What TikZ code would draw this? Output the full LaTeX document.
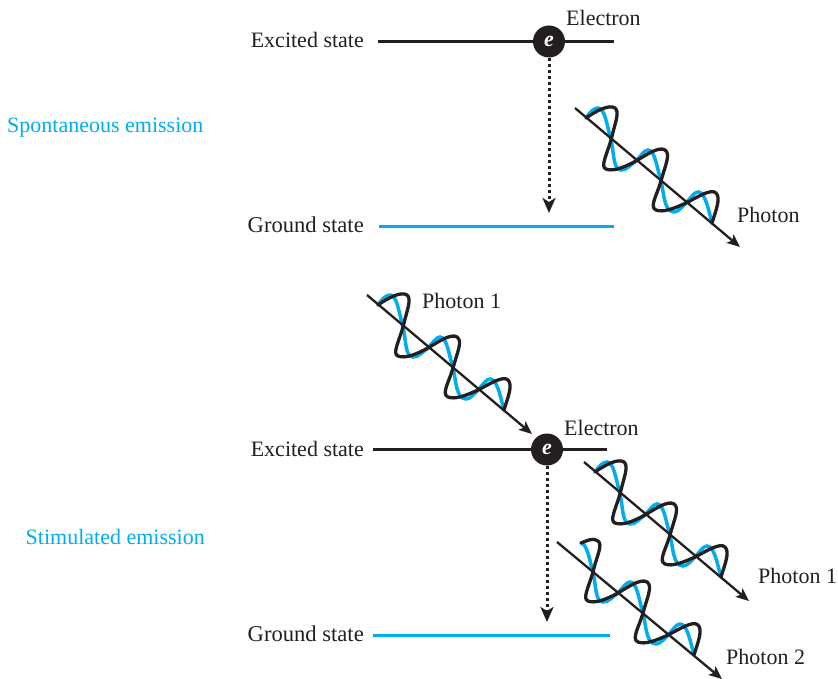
\documentclass[tikz,border=0pt]{standalone}
\usepackage{fontspec}
\setmainfont{Liberation Serif}
\usetikzlibrary{arrows.meta}
\definecolor{inkblack}{HTML}{231F20}
\definecolor{cyanblue}{HTML}{00AEEF}
\tikzset{
  level/.style={line width=3pt,inkblack},
  groundlevel/.style={line width=3pt,cyanblue},
  label/.style={text=inkblack,font=\fontsize{22}{24}\selectfont,inner sep=0pt},
  groundlabel/.style={label,font=\fontsize{22.6}{24}\selectfont},
  heading/.style={text=cyanblue,font=\fontsize{22}{24}\selectfont,inner sep=0pt},
  electron/.style={circle,fill=inkblack,minimum size=32pt,inner sep=0pt,text=white,
    font=\fontsize{22}{24}\selectfont\bfseries\itshape},
  decay/.style={line width=3pt,inkblack,dash pattern=on 3pt off 3pt,
    -{Stealth[length=15pt,width=13pt,inset=4pt]}},
  axisline/.style={line width=2.3pt,inkblack,-{Stealth[length=13pt,width=11pt,inset=3pt]}},
  bluewave/.style={line width=3.5pt,cyanblue,line cap=round},
  blackwave/.style={line width=3.3pt,inkblack,line cap=round,line join=round},
}
% One period of each polarisation after the first half wave
\newcommand{\bluerest}{
  .. controls (28,34) and (27,52) .. (35,52)
  .. controls (41,52) and (44,47) .. (50,43)
  .. controls (54,39) and (58,32) .. (62,32)
  .. controls (69,32) and (71,50) .. (75,63)
  .. controls (78,75) and (78,94) .. (88,94)
  .. controls (92,94) and (96,89) .. (100,85)
  .. controls (104,81) and (108,74) .. (112,74)
  .. controls (119,74) and (122,90) .. (126,105)}
\newcommand{\blackrest}{
  .. controls (21,36) and (14,49) .. (20,51)
  .. controls (27,54) and (39,49) .. (50,43)
  .. controls (60,37) and (73,28) .. (79,32)
  .. controls (85,36) and (79,48) .. (75,63)
  .. controls (71,77) and (63,89) .. (70,92)
  .. controls (77,95) and (89,90) .. (100,85)
  .. controls (110,80) and (125,70) .. (130,75)
  .. controls (135,80) and (130,92) .. (126,105)}
\tikzset{
  photon/.pic={
    \draw[bluewave] (0,0) .. controls (4,-6) and (8,-10) .. (12,-10)
      .. controls (19,-10) and (21,8) .. (25,22) \bluerest;
    \draw[blackwave] (0,0) .. controls (10,-7) and (23,-14) .. (29,-10)
      .. controls (34,-6) and (29,5) .. (25,22) \blackrest;
    \coordinate (-tail) at (-11,-10);
    \coordinate (-tip) at (154,129);
    \draw[axisline] (-tail) -- (-tip);
  },
  photoncut/.pic={
    \draw[bluewave] (13,-7) .. controls (19,-6) and (21,8) .. (25,22) \bluerest;
    \draw[blackwave] (13,-7) .. controls (18,-9) and (26,-13) .. (30,-9)
      .. controls (35,-5) and (29,5) .. (25,22) \blackrest;
    \coordinate (-tail) at (-11,-8);
    \coordinate (-tip) at (154,129);
    \draw[axisline] (-tail) -- (-tip);
  },
}
\begin{document}
\begin{tikzpicture}[x=1pt,y=-1pt]
\useasboundingbox (0,0) rectangle (838,679);

% Spontaneous emission
\coordinate (e1a) at (378,41.5);
\coordinate (e1b) at (614,41.5);
\coordinate (g1a) at (379,226.5);
\coordinate (g1b) at (614,226.5);
\coordinate (d1) at (549,213);
\draw[level] (e1a) -- (e1b);
\draw[groundlevel] (g1a) -- (g1b);
\node[electron] (el1) at (549,41.5) {e};
\draw[decay] (el1.south) -- (d1);
\pic (ph1) at (586,118) {photon};
\node[heading,anchor=base west] (h1) at (7,133) {Spontaneous emission};
\node[label,anchor=base east] (x1) at (364,48) {Excited state};
\node[groundlabel,anchor=base east] (y1) at (364,233) {Ground state};
\node[label,anchor=base west] (l1) at (566,26) {Electron};
\node[label,anchor=base west] (p1) at (737,223) {Photon};

% Stimulated emission
\coordinate (e2a) at (373,449.5);
\coordinate (e2b) at (607,449.5);
\coordinate (g2a) at (373,635.5);
\coordinate (g2b) at (610,635.5);
\coordinate (d2) at (547,622);
\draw[level] (e2a) -- (e2b);
\draw[groundlevel] (g2a) -- (g2b);
\node[electron] (el2) at (547,449.5) {e};
\draw[decay] (el2.south) -- (d2);
\pic (ph2) at (378,305) {photon};
\pic (ph3) at (595,472) {photon};
\pic (ph4) at (568,550) {photoncut};
\node[heading,anchor=base east] (h2) at (205,544) {Stimulated emission};
\node[label,anchor=base east] (x2) at (364,456) {Excited state};
\node[groundlabel,anchor=base east] (y2) at (364,641) {Ground state};
\node[label,anchor=base west] (l2) at (564,435) {Electron};
\node[label,anchor=base west] (p2) at (422,308) {Photon 1};
\node[label,anchor=base west] (p3) at (758,583) {Photon 1};
\node[label,anchor=base west] (p4) at (726,664) {Photon 2};
\end{tikzpicture}
\end{document}
